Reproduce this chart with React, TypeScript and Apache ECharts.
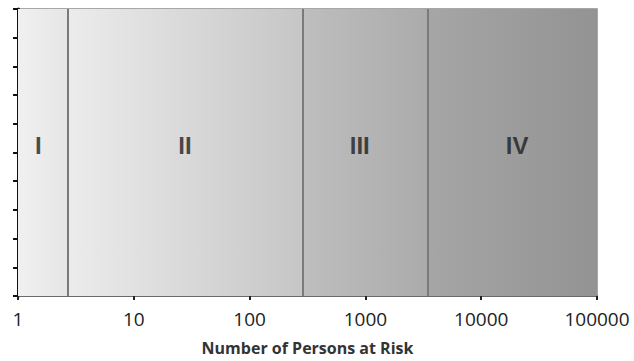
import React, { useEffect, useRef } from "react";
import * as echarts from "echarts";

const xTickValues = [1, 10, 100, 1000, 10000, 100000];
const regionBounds = [1, 2.67, 290, 3450, 100000];
const regionNames = ["I", "II", "III", "IV"];
const regionColorsFrom = ["#f0f0f0", "#ececec", "#bebebe", "#a6a6a6"];
const regionColorsTo = ["#e6e6e6", "#c6c6c6", "#ababab", "#939393"];
const labelX = [1.5, 27.7, 893, 20400];
const labelY = [5.23, 5.23, 5.23, 5.23];
const axisTitle = "Number of Persons at Risk";

export default function App() {
  const ref = useRef<HTMLDivElement>(null);
  useEffect(() => {
    if (!ref.current) return;
    const chart = echarts.init(ref.current, null, { renderer: "svg" });
    const areas = regionNames.map((n, i) => [
      {
        xAxis: regionBounds[i],
        yAxis: 0,
        itemStyle: {
          color: new echarts.graphic.LinearGradient(0, 0, 1, 0, [
            { offset: 0, color: regionColorsFrom[i] },
            { offset: 1, color: regionColorsTo[i] },
          ]),
        },
      },
      { xAxis: regionBounds[i + 1], yAxis: 10 },
    ]);
    const lines = regionBounds.slice(1, 4).map((b) => ({ xAxis: b }));
    chart.setOption({
      animation: false,
      grid: {
        left: 18,
        right: 37,
        top: 9,
        bottom: 64,
        show: true,
        borderColor: "#8a8a8a",
        borderWidth: 1.5,
      },
      xAxis: {
        type: "log",
        logBase: 10,
        min: xTickValues[0],
        max: xTickValues[xTickValues.length - 1],
        name: axisTitle,
        nameLocation: "middle",
        nameGap: 44,
        nameTextStyle: {
          fontFamily: "Open Sans",
          fontWeight: "bold",
          fontSize: 16,
          color: "#333",
        },
        axisLine: { show: true, lineStyle: { color: "#6a6a6a", width: 2 } },
        axisTick: { show: true, length: 4, lineStyle: { color: "#222", width: 2 } },
        minorTick: { show: false },
        splitLine: { show: false },
        axisLabel: {
          fontSize: 19,
          color: "#222",
          margin: 13,
          fontFamily: "Open Sans",
          formatter: (v: number) => String(Math.round(v)),
        },
      },
      yAxis: {
        type: "value",
        min: 0,
        max: 10,
        interval: 1,
        axisLine: { show: true, lineStyle: { color: "#111", width: 3 } },
        axisTick: { show: true, inside: false, length: 5, lineStyle: { color: "#111", width: 2 } },
        axisLabel: { show: false },
        splitLine: { show: false },
      },
      series: [
        {
          type: "scatter",
          symbolSize: 0,
          z: 5,
          data: regionNames.map((n, i) => ({ name: n, value: [labelX[i], labelY[i]] })),
          label: {
            show: true,
            position: "inside",
            formatter: (p: any) => p.name,
            fontFamily: "Liberation Sans",
            fontWeight: "bold",
            fontSize: 24,
            color: "#1e1e1e",
          },
          markArea: { silent: true, data: areas },
          markLine: {
            silent: true,
            symbol: ["none", "none"],
            label: { show: false },
            lineStyle: { color: "#7a7a7a", width: 2, type: "solid" },
            data: lines,
          },
        },
      ],
    });
    return () => chart.dispose();
  }, []);
  return <div ref={ref} style={{ width: 634, height: 361, position: "absolute", left: 0, top: 0 }} />;
}
